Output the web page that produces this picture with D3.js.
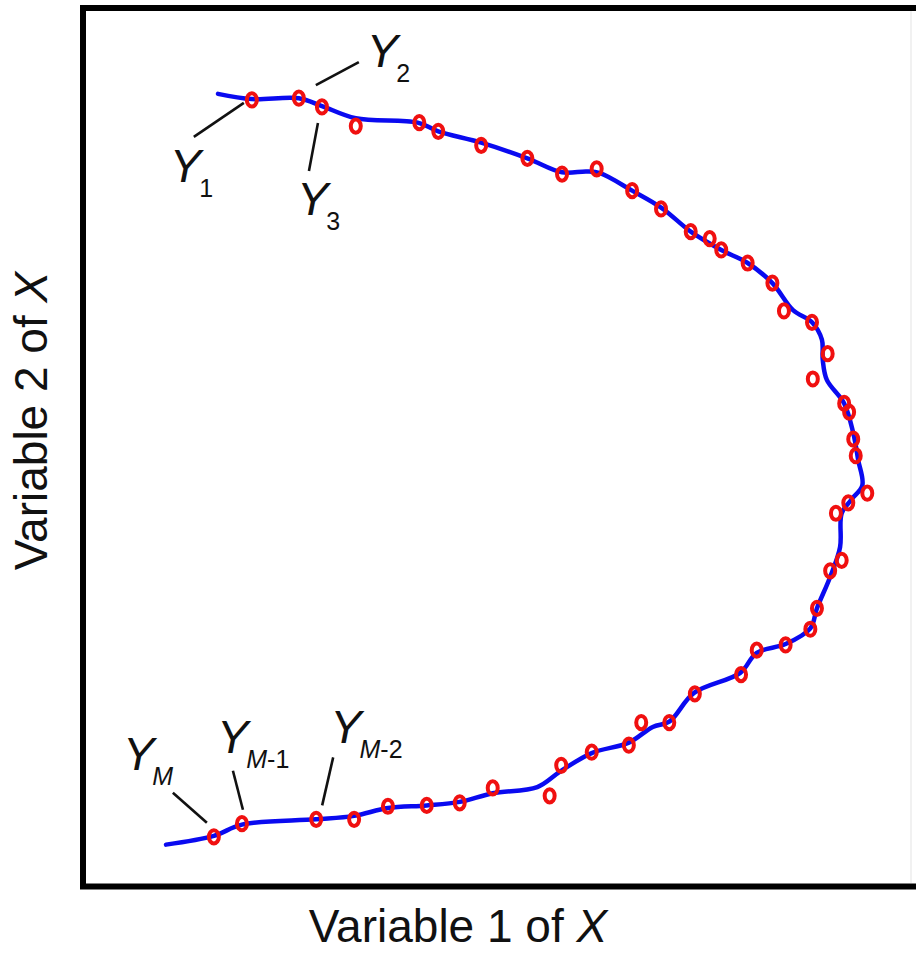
<!DOCTYPE html>
<html>
<head>
<meta charset="utf-8">
<script src="https://cdn.jsdelivr.net/npm/d3@7"></script>
<style>
  body { margin: 0; background: #fff; }
  svg { display: block; }
</style>
</head>
<body>
<svg id="chart" width="916" height="953"></svg>
<script>
// observed states Y_1 .. Y_M (variable 1, variable 2)
let obsX = [2.01, 2.58, 2.86, 3.27, 4.04, 4.27, 4.79, 5.35, 5.77, 6.19,
            6.62, 6.97, 7.33, 7.56, 7.70, 8.02, 8.32, 8.46, 8.80, 8.99,
            8.81, 9.19, 9.25, 9.30, 9.33, 9.47, 9.24, 9.09, 9.16, 9.02,
            8.86, 8.78, 8.48, 8.13, 7.94, 7.38, 7.07, 6.73, 6.58, 6.13,
            5.76, 5.62, 4.93, 4.53, 4.13, 3.66, 3.25, 2.79, 1.89, 1.55];
let obsY = [8.98, 9.00, 8.90, 8.68, 8.72, 8.62, 8.46, 8.31, 8.13, 8.19,
            7.94, 7.73, 7.47, 7.39, 7.26, 7.11, 6.88, 6.56, 6.43, 6.07,
            5.78, 5.50, 5.40, 5.09, 4.90, 4.47, 4.36, 4.24, 3.70, 3.58,
            3.15, 2.91, 2.73, 2.67, 2.39, 2.17, 1.84, 1.84, 1.58, 1.50,
            1.35, 1.00, 1.09, 0.92, 0.89, 0.88, 0.73, 0.73, 0.68, 0.53];

// underlying smooth trajectory
let curveX = [1.60, 2.01, 2.58, 2.86, 3.27, 4.02, 4.27, 4.79, 5.35, 5.77,
              6.07, 6.23, 6.62, 6.98, 7.33, 7.70, 8.02, 8.32, 8.57, 8.80,
              8.92, 8.93, 8.98, 9.19, 9.30, 9.36, 9.41, 9.28, 9.16, 9.14,
              9.02, 8.86, 8.78, 8.48, 8.13, 7.93, 7.37, 7.07, 6.87, 6.58,
              6.13, 5.75, 5.47, 4.93, 4.53, 4.13, 3.66, 3.25, 2.79, 1.89,
              1.55, 0.97];
let curveY = [9.05, 8.99, 9.00, 8.91, 8.77, 8.72, 8.62, 8.49, 8.31, 8.15,
              8.16, 8.14, 7.94, 7.74, 7.47, 7.26, 7.11, 6.88, 6.57, 6.43,
              6.23, 6.00, 5.77, 5.50, 5.16, 4.85, 4.56, 4.40, 4.24, 3.85,
              3.51, 3.15, 2.92, 2.74, 2.64, 2.41, 2.18, 1.85, 1.79, 1.61,
              1.49, 1.28, 1.10, 1.03, 0.93, 0.89, 0.86, 0.77, 0.73, 0.67,
              0.54, 0.44];

// labelled points: subscript and index of the observation
let labelSub = ["1", "2", "3", "M", "M-1", "M-2"];
let labelIdx = [0, 1, 2, 49, 48, 47];

let svg = d3.select("#chart");

let x = d3.scaleLinear().domain([0, 10]).range([86, 911]);
let y = d3.scaleLinear().domain([0, 10]).range([883, 11]);

// frame (right side runs off the picture)
svg.append("rect")
    .attr("x", 83).attr("y", 8)
    .attr("width", 860).attr("height", 878.5)
    .attr("fill", "none")
    .attr("stroke", "#000")
    .attr("stroke-width", 6);
svg.append("line")
    .attr("x1", 911).attr("x2", 911)
    .attr("y1", 11).attr("y2", 883)
    .attr("stroke", "#ececec")
    .attr("stroke-width", 1.5);

let curve = curveX.map((d, i) => [d, curveY[i]]);
let line = d3.line()
    .x(d => x(d[0]))
    .y(d => y(d[1]))
    .curve(d3.curveCatmullRom.alpha(0.5));

svg.append("path")
    .datum(curve)
    .attr("d", line)
    .attr("fill", "none")
    .attr("stroke", "#0a0af0")
    .attr("stroke-width", 4.5)
    .attr("stroke-linecap", "round")
    .attr("stroke-linejoin", "round");

let obs = obsX.map((d, i) => [d, obsY[i]]);
svg.append("g")
    .selectAll("ellipse")
    .data(obs)
    .enter().append("ellipse")
    .attr("cx", d => x(d[0]))
    .attr("cy", d => y(d[1]))
    .attr("rx", 5)
    .attr("ry", 6.6)
    .attr("fill", "none")
    .attr("stroke", "#f01010")
    .attr("stroke-width", 4);

// annotation layout: leader from/to and text origin, as offsets from the point
let annot = [
    {l: [-8, 3, -58, 37], t: [-82, 82]},
    {l: [17, -13, 60, -36], t: [68, -31]},
    {l: [-4, 16, -13, 64], t: [-25, 108]},
    {l: [-7, -14, -41, -44], t: [-91, -67]},
    {l: [1, -14, -9, -53], t: [-25, -71]},
    {l: [6, -14, 17, -62], t: [14, -76]}
];

let ann = svg.append("g")
    .attr("font-family", "'Liberation Sans', Arial, sans-serif")
    .attr("fill", "#111");

labelIdx.forEach((k, i) => {
    let px = x(obsX[k]), py = y(obsY[k]);
    let a = annot[i];
    ann.append("line")
        .attr("x1", px + a.l[0]).attr("y1", py + a.l[1])
        .attr("x2", px + a.l[2]).attr("y2", py + a.l[3])
        .attr("stroke", "#111")
        .attr("stroke-width", 2.6);
    let t = ann.append("text")
        .attr("x", px + a.t[0])
        .attr("y", py + a.t[1])
        .attr("font-size", 47);
    t.append("tspan").attr("font-style", "italic").text("Y");
    let s = labelSub[i];
    if (s[0] === "M") {
        t.append("tspan").attr("font-size", 25).attr("dy", 15).attr("dx", -2)
            .attr("font-style", "italic").text("M");
        if (s.length > 1) t.append("tspan").attr("font-size", 25).text(s.slice(1));
    } else {
        t.append("tspan").attr("font-size", 25).attr("dy", 15).attr("dx", -2).text(s);
    }
});

// axis titles
let xt = svg.append("text")
    .attr("x", 458).attr("y", 942)
    .attr("text-anchor", "middle")
    .attr("font-family", "'Liberation Sans', Arial, sans-serif")
    .attr("font-size", 46)
    .attr("fill", "#111");
xt.append("tspan").text("Variable 1 of ");
xt.append("tspan").attr("font-style", "italic").text("X");

let yt = svg.append("text")
    .attr("transform", "translate(47,421) rotate(-90)")
    .attr("text-anchor", "middle")
    .attr("font-family", "'Liberation Sans', Arial, sans-serif")
    .attr("font-size", 46)
    .attr("fill", "#111");
yt.append("tspan").text("Variable 2 of ");
yt.append("tspan").attr("font-style", "italic").text("X");
</script>
</body>
</html>
